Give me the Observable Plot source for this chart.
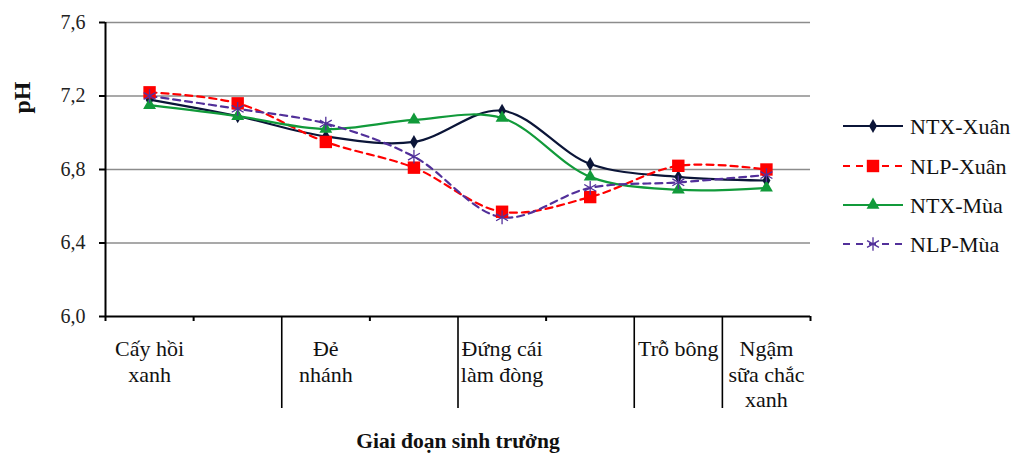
<!DOCTYPE html>
<html><head><meta charset="utf-8">
<script src="https://cdn.jsdelivr.net/npm/d3@7"></script>
<script src="https://cdn.jsdelivr.net/npm/@observablehq/plot@0.6"></script>
<style>
body{margin:0;background:#fff;}
#wrap{position:relative;width:1016px;height:455px;overflow:hidden;}
</style></head><body><div id="wrap"></div>
<script>
const stages = [1, 2, 3, 4, 5, 6, 7, 8];
const ntxXuan = [7.18, 7.09, 6.98, 6.95, 7.12, 6.83, 6.76, 6.74];
const nlpXuan = [7.22, 7.16, 6.95, 6.81, 6.57, 6.65, 6.82, 6.80];
const ntxMua  = [7.15, 7.09, 7.02, 7.07, 7.08, 6.76, 6.69, 6.70];
const nlpMua  = [7.20, 7.13, 7.05, 6.87, 6.54, 6.70, 6.73, 6.77];
const stageLabelPos = [1, 3, 5, 7, 8];
const stageLabelText = ["Cấy hồi\nxanh", "Đẻ\nnhánh", "Đứng cái\nlàm đòng", "Trỗ bông", "Ngậm\nsữa chắc\nxanh"];
const yTicks = [6.0, 6.4, 6.8, 7.2, 7.6];
const longTicks = [2.5, 4.5, 6.5, 7.5];
const shortTicks = [0.5, 1.5, 3.5, 5.5, 8.5];

const series = [
  {name: "NTX-Xuân", values: ntxXuan, color: "#0b1538", dash: null, symbol: "diamond", r: 4.2, fill: true},
  {name: "NLP-Xuân", values: nlpXuan, color: "#ff0000", dash: "7,5", symbol: "square", r: 7, fill: true},
  {name: "NTX-Mùa", values: ntxMua, color: "#119a3a", dash: null, symbol: "triangle", r: 4.8, fill: true},
  {name: "NLP-Mùa", values: nlpMua, color: "#52309a", dash: "7,5", symbol: "asterisk", r: 6.5, fill: false}
];

const labels = stageLabelPos.map((p, k) => ({x: p, text: stageLabelText[k]}));
const font = "Liberation Serif";

const marks = [
  Plot.ruleY(yTicks.slice(1), {stroke: "#8c8c8c", strokeWidth: 1.4}),
];
for (const s of series) {
  const rows = stages.map((st, i) => ({x: st, y: s.values[i]}));
  marks.push(Plot.line(rows, {x: "x", y: "y", curve: "catmull-rom", stroke: s.color, strokeWidth: 2.2, strokeDasharray: s.dash}));
}
for (const s of series) {
  const rows = stages.map((st, i) => ({x: st, y: s.values[i]}));
  marks.push(Plot.dot(rows, s.fill
    ? {x: "x", y: "y", symbol: s.symbol, r: s.r, fill: s.color, stroke: "none"}
    : {x: "x", y: "y", symbol: s.symbol, r: s.r, stroke: s.color, strokeWidth: 1.3, fill: "none"}));
}
marks.push(
  Plot.ruleX([0.5], {stroke: "black", strokeWidth: 2}),
  Plot.ruleY([6], {stroke: "black", strokeWidth: 2.2}),
  Plot.axisY({ticks: yTicks, tickFormat: d => d.toFixed(1).replace(".", ","), tickSize: 6, tickPadding: 14, fontSize: 20, fontFamily: font, label: null, strokeWidth: 2, fill: "#222"}),
  Plot.axisX({ticks: longTicks, tickSize: 92, tickFormat: () => "", strokeWidth: 1.6, label: null}),
  Plot.axisX({ticks: shortTicks, tickSize: 5, tickFormat: () => "", strokeWidth: 2, label: null}),
  Plot.text(labels, {x: "x", text: "text", frameAnchor: "bottom", dy: 22, lineAnchor: "top", lineHeight: 1.15, fontSize: 22, fontFamily: font, fill: "#111"}),
  Plot.text(["pH"], {frameAnchor: "left", dx: -83, dy: -56, rotate: -90, fontSize: 24, fontFamily: font, fontWeight: "bold", fill: "#111"}),
  Plot.text(["Giai đoạn sinh trưởng"], {frameAnchor: "bottom", dy: 131, fontSize: 21.5, fontFamily: font, fontWeight: "bold", fill: "#111"})
);

const chart = Plot.plot({
  width: 1016, height: 455,
  marginLeft: 105, marginRight: 206, marginTop: 22, marginBottom: 139,
  style: {fontFamily: font, background: "white"},
  x: {domain: [0.5, 8.5], axis: null},
  y: {domain: [6, 7.6], axis: null},
  marks
});
const wrap = document.getElementById("wrap");
wrap.appendChild(chart);

// Legend
const lg = d3.select(wrap).append("svg").attr("width", 1016).attr("height", 455)
  .style("position", "absolute").style("left", "0").style("top", "0");
const legendY = [126, 166, 205, 244];
series.forEach((s, i) => {
  const g = lg.append("g").attr("transform", `translate(843,${legendY[i]})`);
  g.append("line").attr("x1", 0).attr("x2", 60).attr("stroke", s.color).attr("stroke-width", 2.2)
    .attr("stroke-dasharray", s.dash ? "7,6" : null);
  const sym = {diamond: d3.symbolDiamond, square: d3.symbolSquare, triangle: d3.symbolTriangle, asterisk: d3.symbolAsterisk}[s.symbol];
  const p = g.append("path").attr("transform", "translate(30,0)").attr("d", d3.symbol(sym, Math.PI * s.r * s.r)());
  if (s.fill) p.attr("fill", s.color); else p.attr("fill", "none").attr("stroke", s.color).attr("stroke-width", 1.3);
  g.append("text").attr("x", 67).attr("dy", "0.35em").attr("font-family", font).attr("font-size", 22)
    .attr("fill", "#111").text(s.name);
});
</script></body></html>
